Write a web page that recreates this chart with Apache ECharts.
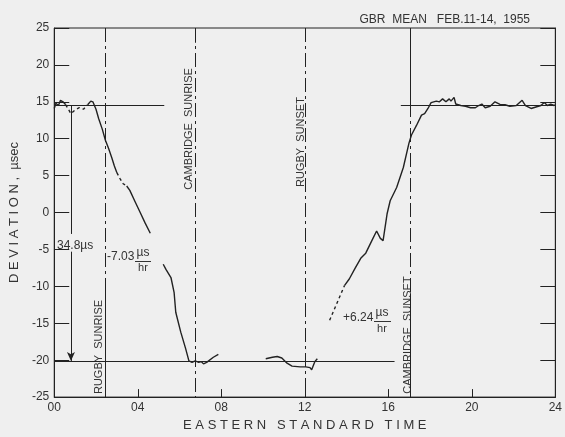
<!DOCTYPE html>
<html>
<head>
<meta charset="utf-8">
<script src="https://cdn.jsdelivr.net/npm/echarts@6/dist/echarts.min.js"></script>
<style>
  html, body { margin: 0; padding: 0; background: #efefef; }
  #chart { width: 565px; height: 437px; }
</style>
</head>
<body>
<div id="chart"></div>
<script>
// hours (EST) and deviation in microseconds
var dawnHours = [0.0, 0.08, 0.2, 0.3, 0.42, 0.55];
var dawnDev = [14.1, 14.8, 14.5, 15.2, 15.0, 14.6];

var dawnGapHours = [0.55, 0.8, 1.0, 1.2, 1.4, 1.6];
var dawnGapDev = [14.6, 13.4, 13.9, 14.2, 14.0, 14.6];

var fallHours = [1.6, 1.75, 1.85, 2.0, 2.13, 2.3, 2.45, 2.6, 2.76, 2.88, 3.0];
var fallDev = [14.6, 15.1, 15.0, 14.0, 12.7, 11.3, 9.8, 8.7, 7.4, 6.3, 5.4];

var fallGapHours = [3.0, 3.15, 3.3, 3.47];
var fallGapDev = [5.4, 4.6, 3.9, 3.6];

var fall2Hours = [3.47, 3.62, 3.85, 4.1, 4.35, 4.6];
var fall2Dev = [3.6, 3.0, 1.6, 0.1, -1.4, -2.8];

var fall3Hours = [5.22, 5.35, 5.59, 5.74, 5.82, 6.06, 6.29, 6.45, 6.6, 6.75, 6.92, 7.05, 7.15, 7.3, 7.39, 7.62, 7.86];
var fall3Dev = [-7.0, -7.7, -8.8, -10.8, -13.5, -16.2, -18.4, -20.1, -20.3, -20.1, -20.3, -20.2, -20.5, -20.3, -20.1, -19.6, -19.2];

var noonHours = [10.13, 10.45, 10.68, 10.9, 11.15, 11.39, 11.78, 12.05, 12.25, 12.33, 12.48, 12.6];
var noonDev = [-19.8, -19.6, -19.5, -19.7, -20.4, -20.8, -20.9, -20.9, -21.0, -21.3, -20.2, -19.8];

var riseGapHours = [13.19, 13.9];
var riseGapDev = [-14.6, -9.9];

var riseHours = [13.9, 14.13, 14.4, 14.68, 14.92, 15.23, 15.44, 15.62, 15.75, 15.94, 16.09, 16.4, 16.72, 16.99, 17.11, 17.35, 17.59, 17.74, 17.9, 18.05,
    18.3, 18.45, 18.6, 18.76, 18.92, 19.0, 19.15, 19.23, 19.47, 19.7, 19.94, 20.17, 20.33, 20.48, 20.64, 20.88, 21.11, 21.35, 21.59, 21.82,
    22.13, 22.41, 22.57, 22.84, 23.07, 23.31, 23.47, 23.62, 23.78, 23.94, 24.0];
var riseDev = [-9.9, -9.0, -7.6, -6.2, -5.5, -3.7, -2.5, -3.5, -3.8, -0.2, 1.6, 3.4, 6.1, 9.4, 10.5, 11.8, 13.2, 13.4, 14.1, 14.9,
    15.1, 15.0, 15.4, 15.0, 15.4, 15.1, 15.6, 14.7, 14.5, 14.4, 14.2, 14.2, 14.5, 14.7, 14.2, 14.4, 15.0, 14.65, 14.6, 14.4,
    14.5, 15.2, 14.5, 14.1, 14.3, 14.5, 14.9, 14.5, 14.7, 14.5, 14.6];

// sunrise / sunset markers
var eventHours = [2.45, 6.73, 12.0, 17.03];
var eventNames = ['RUGBY  SUNRISE', 'CAMBRIDGE  SUNRISE', 'RUGBY  SUNSET', 'CAMBRIDGE  SUNSET'];

// day and night levels
var dayLevel = 14.55;
var nightLevel = -20.1;
var arrowHour = 0.8;

var xTicks = ['00', '04', '08', '12', '16', '20', '24'];

var ink = '#222';
var textColor = '#333';
var font = 'Liberation Sans';

function pairs(a, b) {
    var out = [];
    for (var i = 0; i < a.length; i++) {
        out.push([a[i], b[i]]);
    }
    return out;
}

function curve(hours, vals, dashed) {
    return {
        type: 'line',
        data: pairs(hours, vals),
        symbol: 'none',
        silent: true,
        animation: false,
        lineStyle: {
            color: ink,
            width: 1.4,
            type: dashed ? [3, 3] : 'solid'
        }
    };
}

function hLine(x0, x1, y) {
    return [{ coord: [x0, y] }, { coord: [x1, y] }];
}

function vLine(x, y0, y1) {
    return [{ coord: [x, y0] }, { coord: [x, y1] }];
}

var chart = echarts.init(document.getElementById('chart'));

var refLines = curve([], [], false);
refLines.markLine = {
    silent: true,
    animation: false,
    symbol: 'none',
    label: { show: false },
    lineStyle: { color: ink, width: 1, type: 'solid' },
    data: [
        hLine(0, 5.27, dayLevel),
        hLine(16.6, 24, dayLevel + 0.05),
        hLine(0, 16.3, nightLevel),
        vLine(arrowHour, dayLevel, -2.9),
        // solid parts of the sunrise/sunset lines
        vLine(eventHours[1], 25, 23),
        vLine(eventHours[3], 25, dayLevel),
        vLine(eventHours[3], -11, -25),
        vLine(eventHours[0], -9, -25)
    ]
};

var eventLines = curve([], [], false);
eventLines.markLine = {
    silent: true,
    animation: false,
    symbol: 'none',
    label: { show: false },
    lineStyle: { color: ink, width: 1, type: [14, 4, 3, 4] },
    data: eventHours.map(function(h) { return vLine(h, 25, -25); })
};

var arrow = curve([], [], false);
arrow.markLine = {
    silent: true,
    animation: false,
    symbol: ['none', 'arrow'],
    symbolSize: [6, 9],
    label: { show: false },
    lineStyle: { color: ink, width: 1, type: 'solid' },
    data: [vLine(arrowHour, -5.3, nightLevel)]
};

var series = [
    curve(dawnHours, dawnDev, false),
    curve(dawnGapHours, dawnGapDev, true),
    curve(fallHours, fallDev, false),
    curve(fallGapHours, fallGapDev, true),
    curve(fall2Hours, fall2Dev, false),
    curve(fall3Hours, fall3Dev, false),
    curve(noonHours, noonDev, false),
    curve(riseGapHours, riseGapDev, true),
    curve(riseHours, riseDev, false),
    refLines,
    eventLines,
    arrow
];

function txt(x, y, s, size, align, rot) {
    return {
        type: 'text',
        x: x,
        y: y,
        rotation: rot || 0,
        silent: true,
        style: {
            text: s,
            fill: textColor,
            font: (size || 12) + 'px "' + font + '"',
            textAlign: align || 'left',
            textVerticalAlign: 'middle'
        }
    };
}

function bar(x0, x1, y) {
    return {
        type: 'line',
        silent: true,
        shape: { x1: x0, y1: y, x2: x1, y2: y },
        style: { stroke: textColor, lineWidth: 1 }
    };
}

var vert = Math.PI / 2;

var option = {
    backgroundColor: '#efefef',
    animation: false,
    title: {
        text: 'GBR  MEAN   FEB.11-14,  1955',
        right: 30,
        top: 9,
        textStyle: { color: textColor, fontFamily: font, fontWeight: 'normal', fontSize: 12 }
    },
    grid: {
        left: 53,
        right: 2,
        top: 28,
        bottom: 34,
        show: true,
        borderColor: ink,
        borderWidth: 1
    },
    xAxis: {
        type: 'value',
        min: 0,
        max: 24,
        interval: 4,
        name: 'E A S T E R N   S T A N D A R D   T I M E',
        nameLocation: 'middle',
        nameGap: 20,
        nameTextStyle: { color: textColor, fontFamily: font, fontSize: 13 },
        axisLine: { onZero: false, lineStyle: { color: ink } },
        axisTick: { inside: true, length: 8, lineStyle: { color: ink } },
        splitLine: { show: false },
        axisLabel: {
            color: textColor,
            fontFamily: font,
            fontSize: 12,
            margin: 5,
            formatter: function(v) { return xTicks[v / 4]; }
        }
    },
    yAxis: [{
        type: 'value',
        min: -25,
        max: 25,
        interval: 5,
        name: 'D E V I A T I O N ,  µsec',
        nameLocation: 'middle',
        nameGap: 33,
        nameTextStyle: { color: textColor, fontFamily: font, fontSize: 13 },
        axisLine: { onZero: false, lineStyle: { color: ink } },
        axisTick: { inside: true, length: 15, lineStyle: { color: ink } },
        splitLine: { show: false },
        axisLabel: { color: textColor, fontFamily: font, fontSize: 12, margin: 5 }
    }, {
        type: 'value',
        position: 'right',
        min: -25,
        max: 25,
        interval: 5,
        axisLine: { show: true, onZero: false, lineStyle: { color: ink } },
        axisTick: { inside: true, length: 15, lineStyle: { color: ink } },
        splitLine: { show: false },
        axisLabel: { show: false }
    }],
    graphic: [
        txt(57, 246, '34.8µs', 12),
        txt(107, 257, '-7.03', 12),
        txt(143, 253, 'µs', 12, 'center'),
        bar(135, 151, 261.5),
        txt(143, 268, 'hr', 11, 'center'),
        txt(343, 318, '+6.24', 12),
        txt(382, 313, 'µs', 12, 'center'),
        bar(374, 391, 321.5),
        txt(382, 329, 'hr', 11, 'center'),
        txt(99, 347, eventNames[0], 11, 'center', vert),
        txt(189, 129, eventNames[1], 11, 'center', vert),
        txt(301, 142, eventNames[2], 11, 'center', vert),
        txt(408, 335, eventNames[3], 11, 'center', vert)
    ],
    series: series
};

chart.setOption(option);
</script>
</body>
</html>
